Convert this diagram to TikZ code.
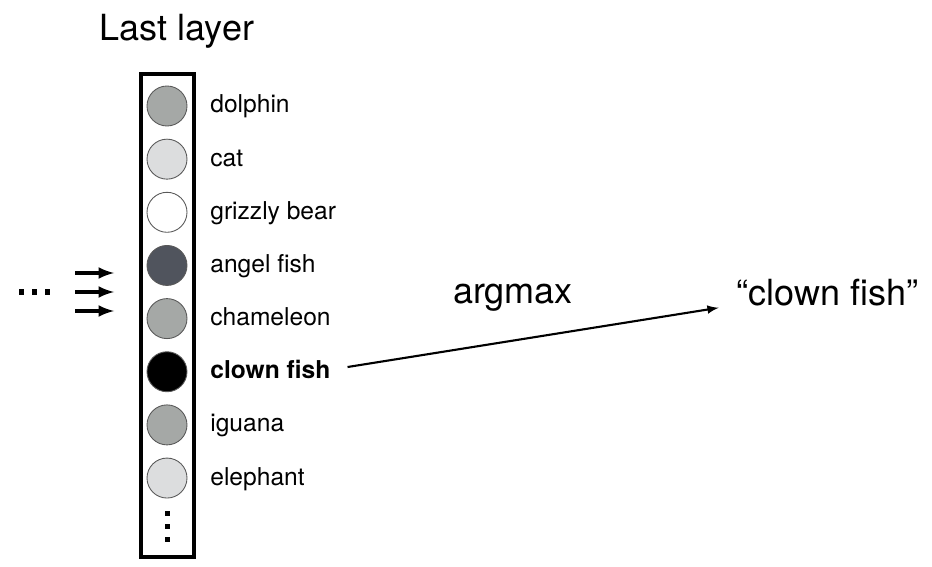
\documentclass[tikz,border=0pt]{standalone}
\usepackage{fontspec}
\setmainfont{TeX Gyre Heros}
\definecolor{cellmid}{RGB}{165,168,166}
\definecolor{celllight}{RGB}{220,221,222}
\definecolor{celldark}{RGB}{80,84,93}
\begin{document}
\begin{tikzpicture}[x=0.02cm,y=-0.02cm,
  unit/.style={circle,draw=black!65,line width=0.5pt,minimum size=0.8cm,inner sep=0pt},
  cls/.style={anchor=base west,inner sep=0pt,font=\fontsize{14}{16}\selectfont},
  big/.style={inner sep=0pt,font=\fontsize{20.5}{24}\selectfont}]
\useasboundingbox (0,0) rectangle (932,567);
\node[big,anchor=base](title)at(177,41){Last layer};
\draw[line width=2.3pt](141,74)rectangle(194,557);
\foreach \name/\shade/\txt [count=\i from 0] in {dolphin/cellmid/dolphin,cat/celllight/cat,grizzly/white/grizzly bear,angel/celldark/angel fish,chameleon/cellmid/chameleon,clown/black/{\textbf{clown fish}},iguana/cellmid/iguana,elephant/celllight/elephant}
{
\node[unit,fill=\shade](\name)at(167,{106+53.15*\i}){};
\node[cls](\name-lbl)at(210,{113+53.15*\i}){\txt};
}
\foreach \y in {513,526,539} \fill(165,\y-2.5)rectangle(170,\y+2.5);
% input side
\foreach \x in {21,34,47} \fill(\x-2.5,289.5)rectangle(\x+2.5,294.5);
\foreach \y [count=\j] in {273,292,311}{
\coordinate(in\j)at(75,\y);
\coordinate(out\j)at(114,\y);
\draw[->,>=latex,line width=2pt](in\j)--(out\j);
}
% output side
\node[big,anchor=base](argmax)at(513,303){argmax};
\node[big,anchor=base west](result)at(736,305){“clown fish”};
\draw[->,>=latex,line width=1.2pt,shorten <=9.7pt,shorten >=10pt](clown-lbl.east)--(result.base west);
\end{tikzpicture}
\end{document}
